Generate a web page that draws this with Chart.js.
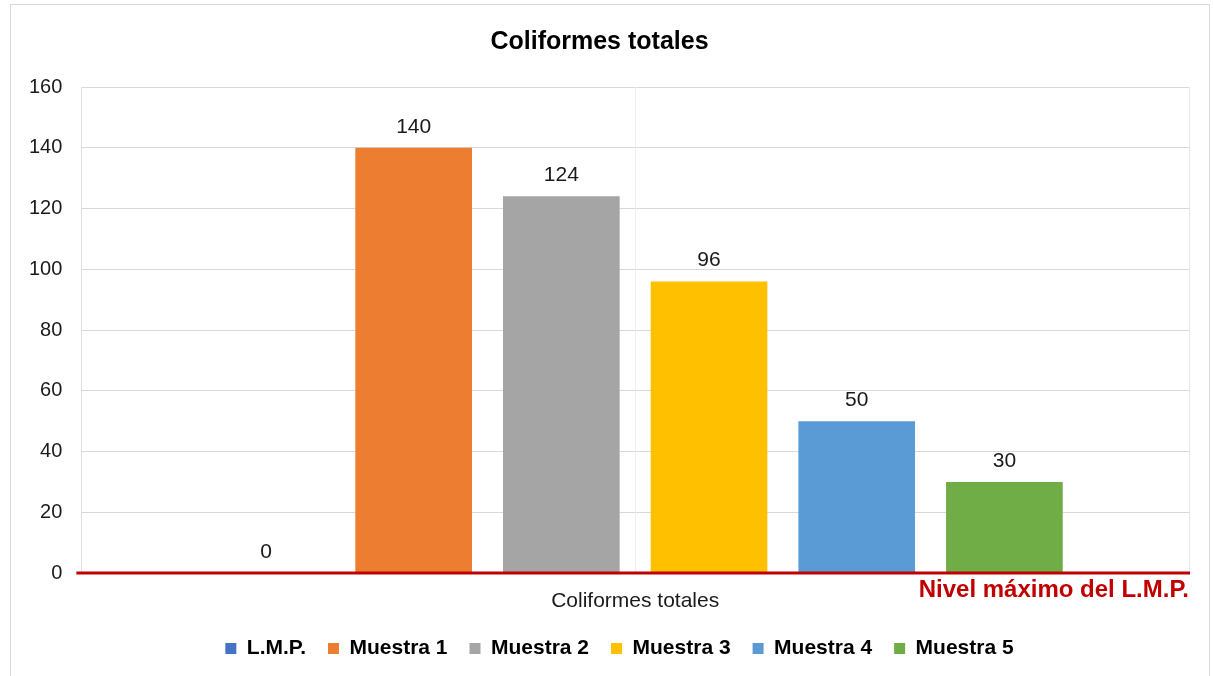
<!DOCTYPE html>
<html>
<head>
<meta charset="utf-8">
<script src="https://cdn.jsdelivr.net/npm/chart.js@4.4.1/dist/chart.umd.min.js"></script>
<style>
html,body{margin:0;padding:0;background:#fff;}
#wrap{position:absolute;left:10px;top:4px;width:1200px;height:680px;border:1px solid #d9d9d9;box-sizing:border-box;}
#c{position:absolute;left:0;top:0;}
</style>
</head>
<body>
<div id="wrap"></div>
<canvas id="c" width="1213" height="676"></canvas>
<script>
const categories = ["Coliformes totales"];
const seriesNames = ["L.M.P.", "Muestra 1", "Muestra 2", "Muestra 3", "Muestra 4", "Muestra 5"];
const seriesValues = [0, 140, 124, 96, 50, 30];
const seriesColors = ["#4472C4", "#ED7D31", "#A5A5A5", "#FFC000", "#5B9BD5", "#70AD47"];
const yTicks = [0, 20, 40, 60, 80, 100, 120, 140, 160];
const lmpLevel = 0;
const lmpLabel = "Nivel máximo del L.M.P.";
const chartTitle = "Coliformes totales";

const FONT = "'Liberation Sans', Arial, sans-serif";

const datasets = seriesNames.map((n, i) => ({
  label: n,
  data: [seriesValues[i]],
  backgroundColor: seriesColors[i],
  borderWidth: 0,
  barPercentage: 0.79,
  categoryPercentage: 0.80
}));

const centerGridPlugin = {
  id: 'centerGrid',
  beforeDatasetsDraw(chart) {
    const ctx = chart.ctx;
    const a = chart.chartArea;
    const xs = chart.scales.x;
    ctx.save();
    ctx.strokeStyle = "#eeeeee";
    ctx.lineWidth = 1;
    categories.forEach((c, i) => {
      const x = Math.round(xs.getPixelForValue(i)) + 0.5;
      ctx.beginPath();
      ctx.moveTo(x, a.top);
      ctx.lineTo(x, a.bottom);
      ctx.stroke();
    });
    ctx.restore();
  }
};

const labelsPlugin = {
  id: 'valueLabels',
  afterDatasetsDraw(chart) {
    const ctx = chart.ctx;
    ctx.save();
    ctx.font = "21px " + FONT;
    ctx.fillStyle = "#1a1a1a";
    ctx.textAlign = "center";
    ctx.textBaseline = "alphabetic";
    chart.data.datasets.forEach((ds, i) => {
      const meta = chart.getDatasetMeta(i);
      meta.data.forEach((el, j) => {
        ctx.fillText(String(ds.data[j]), el.x, el.y - 15);
      });
    });
    ctx.restore();
  }
};

const lmpPlugin = {
  id: 'lmpLine',
  afterDatasetsDraw(chart) {
    const ctx = chart.ctx;
    const y = chart.scales.y.getPixelForValue(lmpLevel);
    const a = chart.chartArea;
    ctx.save();
    ctx.strokeStyle = "#C00000";
    ctx.lineWidth = 3;
    ctx.beginPath();
    ctx.moveTo(a.left - 5, y);
    ctx.lineTo(a.right + 1, y);
    ctx.stroke();
    ctx.font = "bold 24px " + FONT;
    ctx.fillStyle = "#C00000";
    ctx.textAlign = "right";
    ctx.textBaseline = "alphabetic";
    ctx.fillText(lmpLabel, a.right, y + 24);
    ctx.restore();
  }
};

const legendShiftPlugin = {
  id: 'legendShift',
  afterLayout(chart) {
    if (chart.legend) {
      chart.legend.left += 20;
      chart.legend.right += 20;
    }
  }
};

new Chart(document.getElementById('c'), {
  type: 'bar',
  data: { labels: categories, datasets },
  options: {
    responsive: false,
    animation: false,
    layout: { padding: { left: 10, right: 24, top: 10, bottom: 7 } },
    plugins: {
      title: {
        display: true, text: chartTitle,
        font: { family: FONT, size: 25, weight: 'bold' },
        color: '#000',
        padding: { top: 17, bottom: 30 }
      },
      legend: {
        position: 'bottom',
        labels: {
          font: { family: FONT, size: 21, weight: 'bold' },
          color: '#000',
          boxWidth: 11, boxHeight: 11,
          padding: 22
        }
      },
      tooltip: { enabled: false }
    },
    scales: {
      x: {
        type: 'category',
        offset: true,
        grid: { display: true, color: '#e6e6e6', drawTicks: false, offset: true },
        border: { display: false },
        ticks: { font: { family: FONT, size: 21 }, color: '#1a1a1a', padding: 16 },
        afterFit(s) { s.height = 43; }
      },
      y: {
        min: 0, max: 160,
        afterBuildTicks(s) { s.ticks = yTicks.map(v => ({ value: v })); },
        grid: { color: '#d9d9d9', drawTicks: false },
        border: { display: true, color: '#e0e0e0' },
        ticks: { font: { family: FONT, size: 20 }, color: '#1a1a1a', padding: 19 }
      }
    }
  },
  plugins: [centerGridPlugin, labelsPlugin, lmpPlugin, legendShiftPlugin]
});
</script>
</body>
</html>
